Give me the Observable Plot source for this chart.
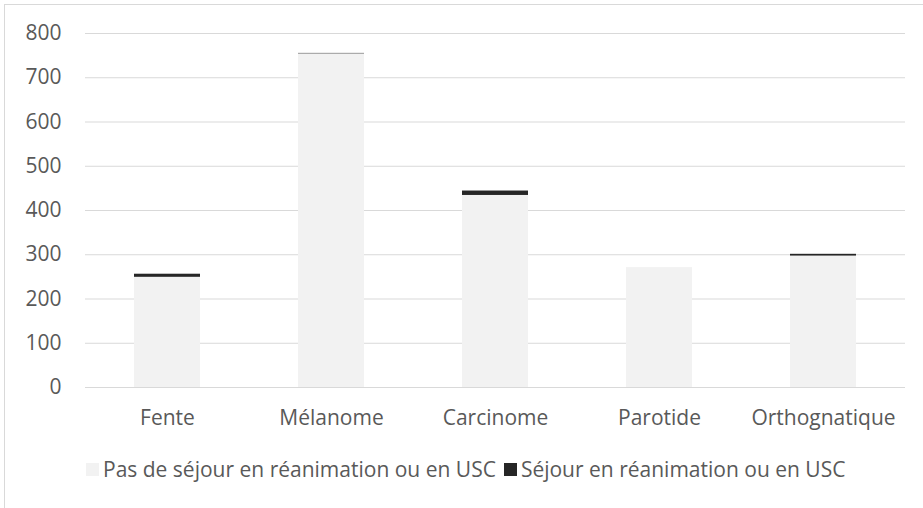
<!DOCTYPE html>
<html>
<head>
<meta charset="utf-8">
<script src="https://cdn.jsdelivr.net/npm/d3@7"></script>
<script src="https://cdn.jsdelivr.net/npm/@observablehq/plot@0.6"></script>
<style>
  html, body { margin: 0; padding: 0; background: #fff; }
  body { width: 923px; height: 508px; overflow: hidden; position: relative; font-family: "Open Sans", sans-serif; }
  #frame { position: absolute; left: 4px; top: 4px; width: 940px; height: 540px; border: 1px solid #d9d9d9; box-sizing: border-box; }
  #chart { position: absolute; left: 0; top: 0; }
  #legend { position: absolute; left: 86px; top: 455px; height: 28px; display: flex; align-items: center; font-size: 21px; color: #595959; white-space: nowrap; }
  .sw { display: inline-block; width: 13px; height: 13px; margin-right: 4px; }
  .item { display: flex; align-items: center; margin-right: 8px; }
</style>
</head>
<body>
<div id="frame"></div>
<div id="chart"></div>
<div id="legend"></div>
<script>
const categories = ["Fente", "Mélanome", "Carcinome", "Parotide", "Orthognatique"];
const seriesNames = ["Pas de séjour en réanimation ou en USC", "Séjour en réanimation ou en USC"];
const noStay = [249, 754, 434, 271, 297];
const stay = [7, 1, 10, 0, 4];
const yTicks = [0, 100, 200, 300, 400, 500, 600, 700, 800];
const colors = ["#f2f2f2", "#262626"];

const data = [];
categories.forEach((c, i) => {
  data.push({cat: c, series: seriesNames[0], value: noStay[i]});
  data.push({cat: c, series: seriesNames[1], value: stay[i]});
});

const chart = Plot.plot({
  width: 923,
  height: 450,
  marginTop: 33,
  marginBottom: 63,
  marginLeft: 85,
  marginRight: 18,
  style: {fontFamily: "Open Sans, sans-serif", fontSize: "21px", color: "#595959", background: "transparent"},
  x: {domain: categories, paddingInner: 0.6, paddingOuter: 0.3, label: null},
  y: {domain: [0, 800], label: null},
  color: {domain: seriesNames, range: colors},
  marks: [
    Plot.gridY(yTicks, {stroke: "#d9d9d9", strokeOpacity: 1, strokeWidth: 1}),
    Plot.barY(data, {x: "cat", y: "value", fill: "series", order: seriesNames}),
    Plot.axisY(yTicks, {tickSize: 0, tickPadding: 24, fontSize: 21, fill: "#595959", label: null}),
    Plot.axisX({tickSize: 0, tickPadding: 23, fontSize: 21, fill: "#595959", label: null})
  ]
});
document.getElementById("chart").appendChild(chart);

const legend = document.getElementById("legend");
seriesNames.forEach((s, i) => {
  const item = document.createElement("div");
  item.className = "item";
  const sw = document.createElement("span");
  sw.className = "sw";
  sw.style.background = colors[i];
  item.appendChild(sw);
  item.appendChild(document.createTextNode(s));
  legend.appendChild(item);
});
</script>
</body>
</html>
